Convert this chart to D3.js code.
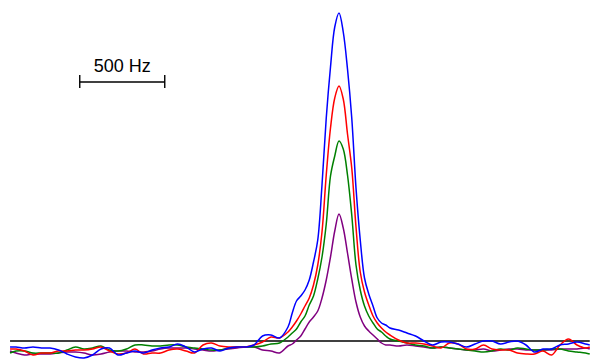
<!DOCTYPE html>
<html>
<head>
<meta charset="utf-8">
<script src="https://cdn.jsdelivr.net/npm/d3@7"></script>
<style>
  body { margin: 0; background: #fff; }
  svg { display: block; }
</style>
</head>
<body>
<svg id="spectrum" width="591" height="360"></svg>
<script>
(function () {
  'use strict';

  // frequency bins (Hz), finer around the peak
  var freqs = [65,
    100, 150, 200, 250, 300, 350, 400, 450, 500, 550, 600, 650, 700, 750, 800, 850,
    900, 950, 1000, 1050, 1100, 1150, 1200, 1250, 1300, 1350, 1400, 1450, 1500, 1550, 1600, 1650,
    1700, 1725, 1750, 1775, 1800, 1825, 1850, 1875, 1900, 1925, 1950, 1975, 2000,
    2025, 2050, 2075, 2100, 2125, 2150, 2175, 2200, 2225, 2250, 2275, 2300,
    2350, 2400, 2450, 2500, 2550, 2600, 2650, 2700, 2750, 2800, 2850, 2900, 2950,
    3000, 3050, 3100, 3150, 3200, 3250, 3300, 3350, 3400, 3450, 3475];

  var blue = [-6,
    -6, -7, -6, -7, -7, -9, -13, -16, -17, -14, -8, -7, -14, -12, -10, -12,
    -9, -7, -6, -3, -6, -11, -8, -7, -10, -7, -6, -6, -4, 5, 6, 3,
    14, 28, 40, 45, 51, 61, 79, 101, 156, 223, 274, 314, 328,
    309, 272, 223, 153, 101, 63, 47, 35, 23, 18, 16, 13,
    11, 8, 5, 0, -4, -1, -1, -3, -6, -3, 0, 0, -3,
    -1, 0, -4, -11, -8, -8, -4, -3, -1, -3, -4];

  var red = [-8,
    -8, -10, -14, -12, -12, -10, -10, -9, -9, -8, -6, -10, -13, -12, -8, -13,
    -12, -12, -9, -8, -10, -12, -4, -2, -5, -6, -6, -6, -4, -1, 4, 3,
    9, 14, 20, 27, 35, 43, 56, 76, 109, 166, 213, 243, 255,
    242, 207, 173, 114, 69, 49, 36, 25, 18, 13, 9, 6,
    1, -2, -2, -3, -5, -7, -2, -3, -8, -8, -4, -8, -9,
    -9, -12, -13, -13, -10, -14, -4, 2, -4, -7, -6];

  var green = [-12,
    -10, -10, -12, -12, -12, -12, -9, -6, -8, -7, -5, -9, -10, -8, -4, -4,
    -5, -5, -4, -4, -6, -7, -8, -9, -9, -7, -6, -6, -6, -5, -3, -2,
    4, 8, 12, 19, 25, 36, 45, 62, 84, 117, 165, 185, 200,
    192, 166, 126, 76, 51, 35, 25, 18, 12, 9, 5, 2,
    0, -2, -4, -5, -7, -6, -7, -8, -9, -10, -11, -10, -8,
    -9, -7, -8, -9, -9, -8, -8, -10, -11, -12, -13];

  var purple = [-10,
    -12, -14, -13, -13, -13, -12, -11, -11, -12, -14, -13, -11, -10, -10, -11, -11,
    -10, -8, -7, -7, -7, -8, -9, -10, -9, -8, -7, -6, -6, -9, -10, -12,
    -5, -3, 1, 5, 12, 19, 24, 30, 43, 61, 84, 110, 127,
    113, 88, 62, 39, 24, 15, 10, 6, 2, -2, -4, -4,
    -5, -4, -5, -6, -7, -6, -7, -8, -9, -9, -8, -10, -9,
    -8, -8, -9, -9, -9, -9, -8, -8, -8, -7, -8];

  var series = [
    { name: 'purple', color: '#800080', values: purple },
    { name: 'green', color: '#008000', values: green },
    { name: 'red', color: '#ff0000', values: red },
    { name: 'blue', color: '#0000ff', values: blue }
  ];

  var scaleBar = { start: 475, span: 500, label: '500 Hz' };

  var svg = d3.select('svg#spectrum');

  var x = d3.scaleLinear()
    .domain([0, 3500])
    .range([-1, 594]);

  var y = d3.scaleLinear()
    .domain([0, 328])
    .range([341, 13]);

  // zero line
  svg.append('line')
    .attr('x1', x(freqs[0]))
    .attr('x2', x(freqs[freqs.length - 1]))
    .attr('y1', y(0))
    .attr('y2', y(0))
    .style('stroke', '#000')
    .style('stroke-width', 1.6);

  var line = d3.line()
    .x(function (d, i) { return x(freqs[i]); })
    .y(function (d) { return y(d); })
    .curve(d3.curveCatmullRom.alpha(0.5));

  svg.selectAll('path.trace')
    .data(series)
    .enter().append('path')
    .attr('class', 'trace')
    .attr('d', function (d) { return line(d.values); })
    .style('fill', 'none')
    .style('stroke', function (d) { return d.color; })
    .style('stroke-width', 1.5)
    .style('stroke-linejoin', 'round');

  // scale bar
  var x0 = x(scaleBar.start);
  var x1 = x(scaleBar.start + scaleBar.span);
  var bar = svg.append('g')
    .attr('class', 'scale-bar')
    .style('stroke', '#000')
    .style('stroke-width', 1.4);

  bar.append('line').attr('x1', x0).attr('x2', x1).attr('y1', 82).attr('y2', 82);
  bar.append('line').attr('x1', x0).attr('x2', x0).attr('y1', 75).attr('y2', 88);
  bar.append('line').attr('x1', x1).attr('x2', x1).attr('y1', 75).attr('y2', 88);

  svg.append('text')
    .attr('x', (x0 + x1) / 2)
    .attr('y', 72)
    .style('text-anchor', 'middle')
    .style('font-family', 'Liberation Sans, Arial, sans-serif')
    .style('font-size', '18px')
    .style('fill', '#000')
    .text(scaleBar.label);
}());
</script>
</body>
</html>
